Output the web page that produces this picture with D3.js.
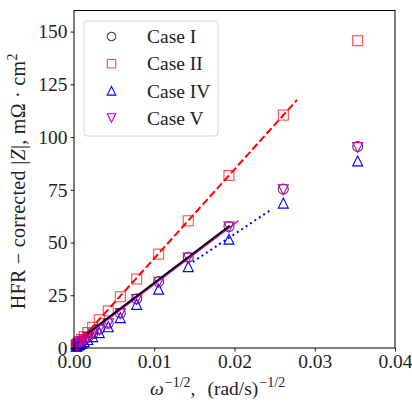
<!DOCTYPE html>
<html><head><meta charset="utf-8">
<script src="https://cdn.jsdelivr.net/npm/d3@7"></script>
<style>body{margin:0;background:#fff;} svg{display:block;} text{font-family:"Liberation Serif","DejaVu Serif",serif;}</style>
</head><body><svg id="c" width="412" height="405"></svg>
<script>
// ---- data ----
const xTicks = [0, 0.01, 0.02, 0.03, 0.04];
const yTicks = [0, 25, 50, 75, 100, 125, 150];
const omegaInvSqrt = [0.03535, 0.02608, 0.01931, 0.01424, 0.01055, 0.00781, 0.00577, 0.00427, 0.00315, 0.00233, 0.00172, 0.00127, 0.00094, 0.00070, 0.00051, 0.00038, 0.00028];
const caseI  = [95.5, 75.3, 57.6, 43.0, 31.5, 23.3, 16.5, 11.7, 8.9, 6.8, 5.2, 4.0, 3.1, 2.4, 1.9, 1.5, 1.2];
const caseII = [145.7, 110.4, 81.8, 60.3, 44.5, 32.7, 24.3, 17.6, 13.4, 9.8, 7.3, 5.4, 4.0, 3.0, 2.2, 1.6, 1.2];
const caseIV = [88.7, 68.7, 51.6, 38.6, 27.9, 20.7, 14.4, 10.1, 7.3, 5.4, 4.0, 3.0, 2.3, 1.7, 1.3, 1.0, 0.8];
const caseV  = [95.0, 75.0, 57.3, 42.6, 31.2, 23.0, 16.3, 11.5, 8.7, 6.6, 5.0, 3.9, 3.0, 2.3, 1.8, 1.4, 1.1];
// linear fits: [x start, x end, intercept, slope]
const fitI  = [0.0012, 0.0194, 2.1, 2880];
const fitII = [0.0010, 0.0278, 0.3, 4220];
const fitIV = [0.0148, 0.0247, 3.2, 2540];
const fitV  = [0.0012, 0.0205, 1.5, 2870];
const legendLabels = ["Case I", "Case II", "Case IV", "Case V"];

// ---- layout ----
const L = 74, R = 395, T = 10.5, B = 348;
const svg = d3.select("#c");
const x = d3.scaleLinear().domain([0, 0.04]).range([L, R]);
const y = d3.scaleLinear().domain([0, 160]).range([B, T]);

const series = [
  {vals: caseI,  shape: "circle", color: "#000", op: 0.72},
  {vals: caseII, shape: "square", color: "#ff0000", op: 0.7},
  {vals: caseIV, shape: "up", color: "#0000ff", op: 1},
  {vals: caseV,  shape: "down", color: "#bf00bf", op: 1},
];

function marker(g, shape, s) {
  const h = s / 2;
  if (shape === "circle") return g.append("circle").attr("r", h);
  if (shape === "square") return g.append("rect").attr("x", -h).attr("y", -h).attr("width", s).attr("height", s);
  if (shape === "up") return g.append("path").attr("d", `M0,${-h}L${-h},${h}L${h},${h}Z`);
  return g.append("path").attr("d", `M0,${h}L${-h},${-h}L${h},${-h}Z`);
}

const plot = svg.append("g");
series.forEach(s => {
  s.vals.forEach((v, i) => {
    const g = plot.append("g").attr("transform", `translate(${x(omegaInvSqrt[i])},${y(v)})`);
    marker(g, s.shape, 10).attr("fill", "none").attr("stroke", s.color).attr("stroke-opacity", s.op).attr("stroke-width", 1.1);
  });
});

function fitLine(f, color, w, dash) {
  const pts = [f[0], f[1]].map(xv => [x(xv), y(f[2] + f[3] * xv)]);
  plot.append("path").attr("d", d3.line()(pts)).attr("fill", "none").attr("stroke", color)
    .attr("stroke-width", w).attr("stroke-dasharray", dash || null);
}
fitLine(fitV, "#bf00bf", 1.5);
fitLine(fitI, "#000", 1.8);
fitLine(fitII, "#ff0000", 2, "7.4,3.2");
fitLine(fitIV, "#0000ff", 2, "2,3.3");

// ---- axes ----
const fs = 19.5;
const xAxis = svg.append("g").attr("transform", `translate(0,${B})`)
  .call(d3.axisBottom(x).tickValues(xTicks).tickFormat(d3.format(".2f")).tickSize(3.5).tickPadding(3));
const yAxis = svg.append("g").attr("transform", `translate(${L},0)`)
  .call(d3.axisLeft(y).tickValues(yTicks).tickSize(3.5).tickPadding(3));
[xAxis, yAxis].forEach(a => {
  a.select(".domain").remove();
  a.selectAll("line").attr("stroke", "#000").attr("stroke-width", 0.9);
  a.selectAll("text").attr("font-size", fs).attr("fill", "#222").attr("font-family", "Liberation Serif");
});
svg.append("rect").attr("x", L).attr("y", T).attr("width", R - L).attr("height", B - T)
  .attr("fill", "none").attr("stroke", "#000").attr("stroke-width", 1);

// ---- axis labels ----
const xl = svg.append("text").attr("x", 150).attr("y", 395).attr("text-anchor", "start")
  .attr("font-size", fs).attr("fill", "#222");
xl.append("tspan").attr("font-style", "italic").text("ω");
xl.append("tspan").attr("font-size", 14).attr("dy", -8).attr("dx", 1).text("−1/2");
xl.append("tspan").attr("dy", 8).text(",");
xl.append("tspan").attr("dx", 12).text("(rad/s)");
xl.append("tspan").attr("font-size", 14).attr("dy", -8).attr("dx", 1).text("−1/2");

const yl = svg.append("text").attr("transform", `translate(25,${(T + B) / 2 + 2}) rotate(-90)`)
  .attr("text-anchor", "middle").attr("font-size", 20).attr("letter-spacing", 0.3).attr("fill", "#222");
yl.append("tspan").text("HFR − corrected |");
yl.append("tspan").attr("font-style", "italic").text("Z");
yl.append("tspan").text("|, mΩ · cm");
yl.append("tspan").attr("font-size", 14).attr("dy", -8).text("2");

// ---- legend ----
const lg = svg.append("g");
lg.append("rect").attr("x", 84).attr("y", 21).attr("width", 134).attr("height", 115).attr("rx", 3)
  .attr("fill", "#fff").attr("fill-opacity", 0.8).attr("stroke", "#d6d6d6").attr("stroke-width", 1);
const rowY = d3.scalePoint().domain(legendLabels).range([36.5, 118]);
series.forEach((s, i) => {
  const yy = rowY(legendLabels[i]);
  const g = lg.append("g").attr("transform", `translate(111.5,${yy})`);
  marker(g, s.shape, 8.5).attr("fill", "none").attr("stroke", s.color).attr("stroke-opacity", s.op).attr("stroke-width", 1.1);
  lg.append("text").attr("x", 147).attr("y", yy).attr("dy", "0.35em").attr("font-size", fs).attr("fill", "#222").text(legendLabels[i]);
});
</script></body></html>
